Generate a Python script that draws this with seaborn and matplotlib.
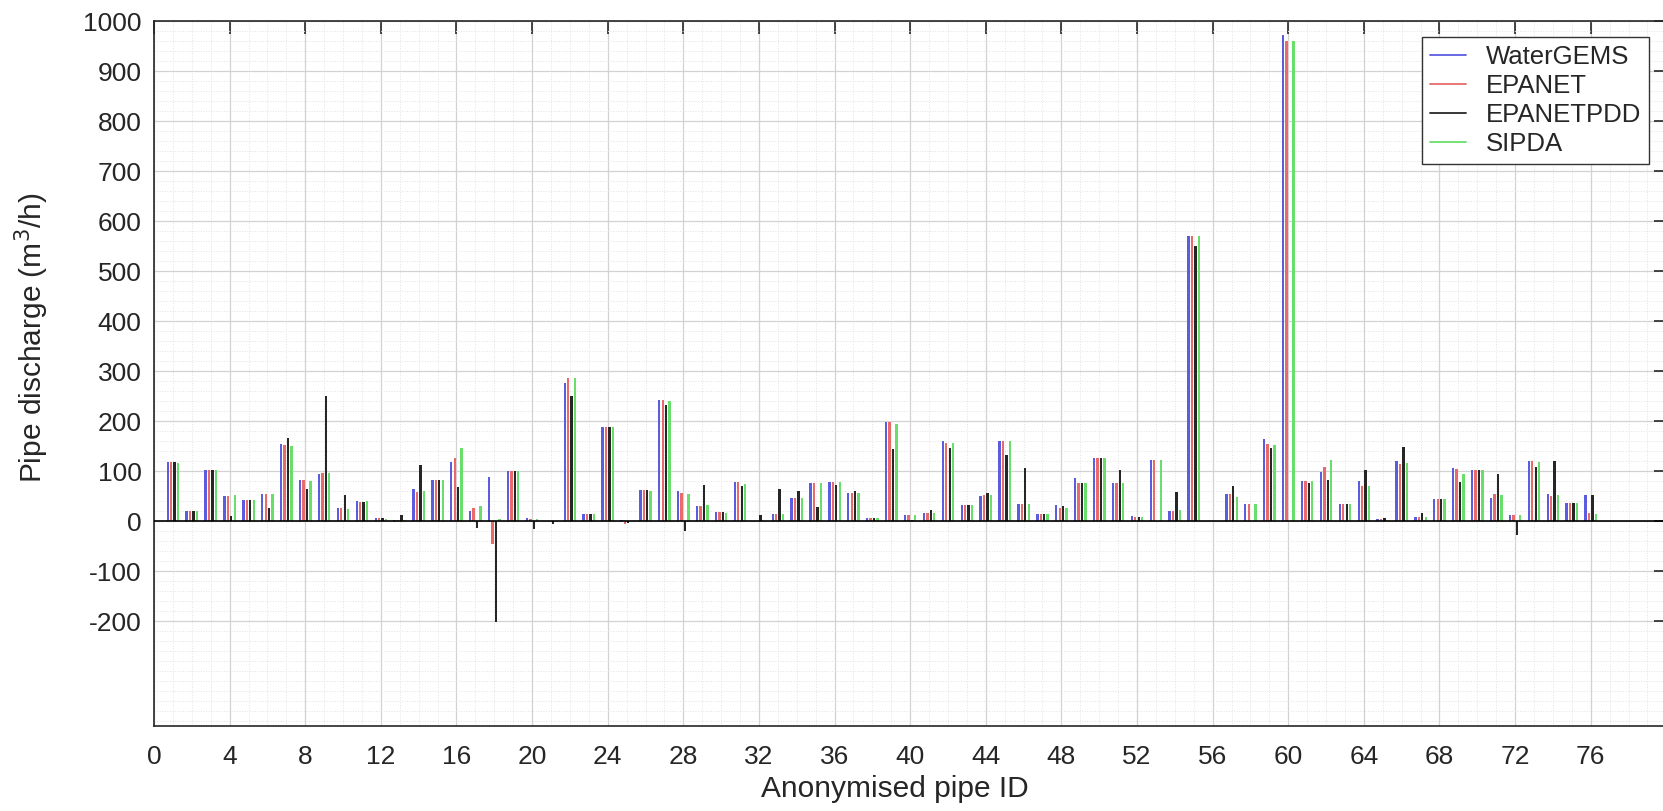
import numpy as np
import pandas as pd
import matplotlib
matplotlib.use("Agg")
import matplotlib.pyplot as plt
from matplotlib.lines import Line2D
from matplotlib.ticker import MultipleLocator
import seaborn as sns

pipe_ids = list(range(1, 77))

watergems = [118, 20, 102, 51, 43, 55, 154, 82, 94, 27,
             40, 7, 3, 64, 82, 118, 21, 88, 100, 7,
             1, 277, 15, 188, 2, 62, 243, 61, 30, 19,
             78, 1, 15, 47, 77, 78, 56, 7, 198, 12,
             17, 160, 33, 51, 160, 35, 14, 33, 87, 127,
             77, 11, 123, 21, 570, 0, 55, 34, 164, 973,
             80, 98, 34, 80, 5, 120, 9, 45, 107, 102,
             47, 12, 121, 54, 37, 52]
epanet = [118, 20, 102, 51, 43, 55, 152, 82, 97, 27,
          39, 7, 3, 59, 82, 126, 27, -45, 100, 5,
          1, 286, 15, 188, -5, 62, 243, 57, 30, 19,
          78, 1, 15, 47, 77, 78, 56, 7, 198, 12,
          17, 156, 33, 52, 160, 34, 14, 27, 77, 127,
          77, 9, 123, 21, 570, 0, 55, 34, 154, 960,
          80, 108, 34, 70, 5, 115, 9, 45, 105, 102,
          55, 12, 120, 51, 37, 17]
epanetpdd = [118, 20, 102, 10, 43, 27, 166, 65, 251, 52,
             38, 7, 12, 112, 82, 68, -13, -201, 100, -15,
             -5, 251, 15, 188, -3, 62, 233, -20, 72, 19,
             70, 12, 65, 61, 29, 72, 61, 7, 145, 2,
             23, 147, 33, 57, 132, 107, 15, 31, 77, 127,
             103, 8, 0, 59, 551, 0, 71, 0, 146, 0,
             77, 83, 34, 103, 7, 148, 17, 45, 79, 102,
             95, -27, 108, 120, 37, 52]
sipda = [116, 20, 102, 52, 43, 55, 151, 80, 96, 25,
         40, 4, 2, 61, 82, 146, 31, 5, 100, 5,
         1, 286, 15, 188, 1, 61, 240, 55, 32, 17,
         75, 1, 15, 47, 77, 78, 56, 7, 195, 12,
         17, 156, 33, 52, 160, 34, 14, 27, 77, 127,
         76, 9, 122, 22, 570, 0, 49, 34, 152, 960,
         80, 122, 34, 70, 3, 117, 9, 45, 95, 102,
         52, 12, 118, 52, 37, 15]

series_names = ["WaterGEMS", "EPANET", "EPANETPDD", "SIPDA"]
series_colors = ["#5c5ce0", "#e86a6a", "#262626", "#6ade6a"]
x_ticks = list(range(0, 77, 4))
y_ticks = list(range(-200, 1001, 100))

frames = []
for name, vals in zip(series_names, [watergems, epanet, epanetpdd, sipda]):
    frames.append(pd.DataFrame({"pipe": pipe_ids, "value": vals, "model": name}))
df = pd.concat(frames, ignore_index=True)

sns.set_style("white")
plt.rcParams["font.family"] = ["Liberation Sans", "DejaVu Sans"]

fig = plt.figure(figsize=(16.63, 8.11), dpi=100)
ax = fig.add_axes([0.0926, 0.1048, 0.9094, 0.8693])

palette = dict(zip(series_names, series_colors))
sns.barplot(data=df, x="pipe", y="value", hue="model", hue_order=series_names,
            palette=palette, native_scale=True, width=0.727, gap=0.32,
            errorbar=None, linewidth=0, saturation=1, legend=False, ax=ax, zorder=3)

ax.axhline(0, color="black", lw=1.2, zorder=4)

ax.set_xlim(0, 80)
ax.set_ylim(-410, 1000)
ax.set_xticks(x_ticks)
ax.set_xticklabels([str(t) for t in x_ticks])
ax.set_yticks(y_ticks)
ax.set_yticklabels([str(t) for t in y_ticks])
ax.xaxis.set_minor_locator(MultipleLocator(1))
ax.yaxis.set_minor_locator(MultipleLocator(20))

ax.grid(which="major", color="#d2d2d2", lw=0.9, zorder=0)
ax.grid(which="minor", color="#e2e2e2", lw=0.7, ls=":", zorder=0)
ax.set_axisbelow(True)

ax.tick_params(which="major", direction="in", length=9, width=1.2,
               top=True, right=True, labelsize=19, colors="#262626",
               labelcolor="#262626")
ax.tick_params(axis="x", which="major", pad=14)
ax.tick_params(axis="y", which="major", pad=9)
ax.tick_params(which="minor", length=0)
for s in ax.spines.values():
    s.set_color("#262626")
    s.set_linewidth(1.2)

ax.set_xlabel("Anonymised pipe ID", fontsize=21.5, color="#262626")
ax.set_ylabel("Pipe discharge (m$^3$/h)", fontsize=21.5, color="#262626")
ax.xaxis.label.set_va("center")
ax.yaxis.label.set_va("center")
ax.xaxis.set_label_coords(0.49, -0.090)
ax.yaxis.set_label_coords(-0.0807, 0.55)

handles = [Line2D([0], [0], color=c, lw=1.3) for c in series_colors]
leg = ax.legend(handles, series_names, loc="upper right",
                bbox_to_anchor=(0.9888, 0.977), borderaxespad=0,
                fontsize=18.5, frameon=True,
                fancybox=False, edgecolor="#333333", framealpha=1,
                handlelength=1.4, handletextpad=0.8, borderpad=0.3,
                labelspacing=0.2)
leg.get_frame().set_linewidth(1.0)

fig.savefig("out.png", dpi=100)
